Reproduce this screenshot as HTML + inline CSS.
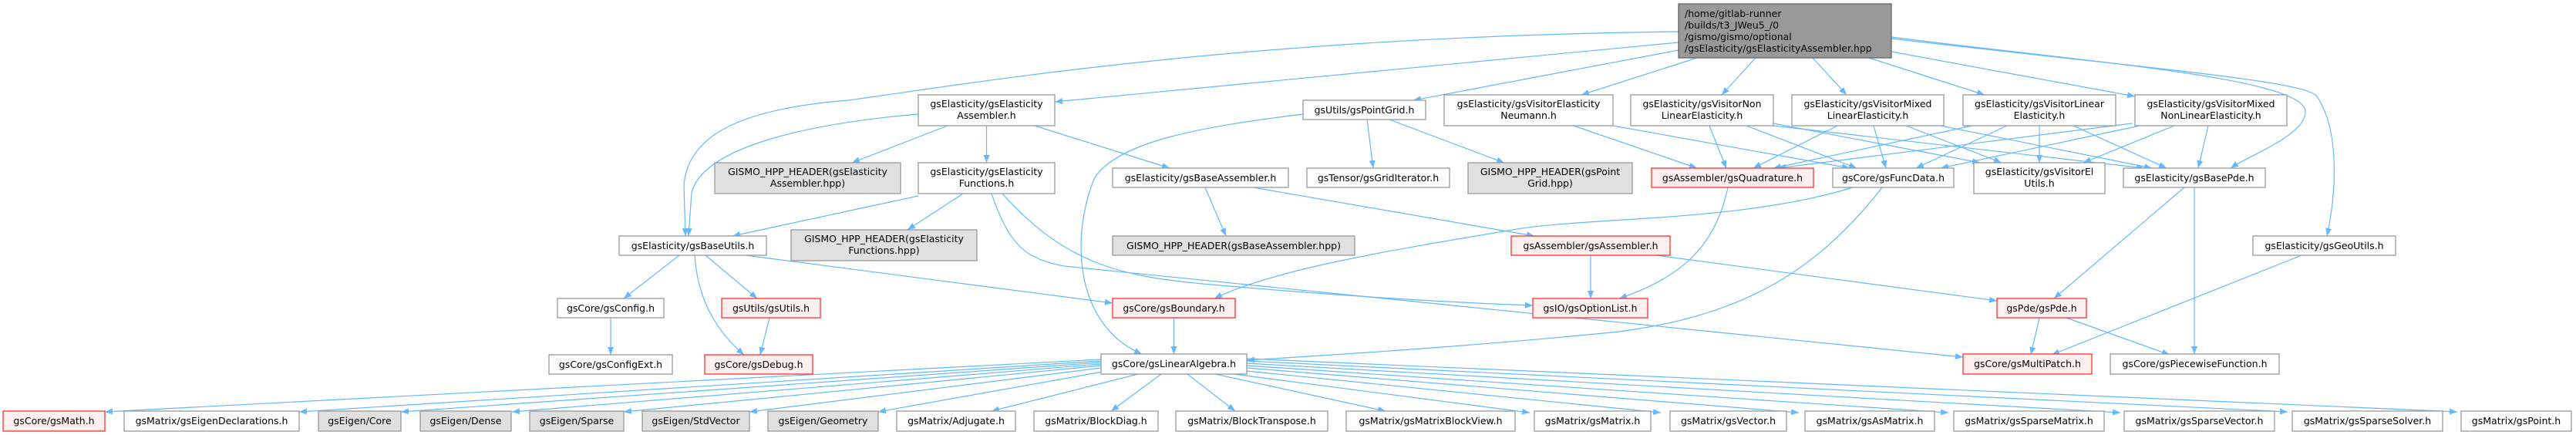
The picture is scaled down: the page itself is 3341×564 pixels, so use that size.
<!DOCTYPE html>
<html><head><meta charset="utf-8"><style>
html,body{margin:0;padding:0;background:#fff;}
svg{display:block;}
text{font-family:"DejaVu Sans","Liberation Sans",sans-serif;font-size:12.5px;fill:#000;}
.n{fill:#fff;stroke:#999;stroke-width:1.3;}
.r{fill:#fff0f0;stroke:#ff3030;stroke-width:1.3;}
.g{fill:#e0e0e0;stroke:#999;stroke-width:1.3;}
.m{fill:#999;stroke:#666;stroke-width:1.3;}
.e{fill:none;stroke:#63b8ff;stroke-width:1.2;marker-end:url(#a);}
</style></head><body>
<svg width="3341" height="564" viewBox="0 0 3341 564" xmlns="http://www.w3.org/2000/svg">
<defs><marker id="a" markerUnits="userSpaceOnUse" markerWidth="11" markerHeight="8" refX="10" refY="4" orient="auto"><path d="M0,0 L10,4 L0,8 z" fill="#63b8ff"/></marker></defs>

<!-- edges from main -->
<path class="e" d="M2177,41 C1600,48 1250,110 1100,130 C950,142 892,180 887,240 L889,306"/>
<path class="e" d="M1191,148 C1050,160 912,190 897,250 L893,306"/>
<path class="e" d="M2177,55 L1368,132"/>
<path class="e" d="M2177,65 L1833,130"/>
<path class="e" d="M2201,75 L2051,123"/>
<path class="e" d="M2277,75 L2233,123"/>
<path class="e" d="M2351,75 L2395,123"/>
<path class="e" d="M2424,75 L2574,123"/>
<path class="e" d="M2453,67 L2769,125"/>
<path class="e" d="M2453,48 C2700,80 2990,100 2990,145 C2990,175 2920,200 2893,218"/>
<path class="e" d="M2453,50 C2800,90 2990,105 3005,125 C3035,170 3030,250 3018,306"/>
<!-- EA -->
<path class="e" d="M1229,163 L1105,211"/>
<path class="e" d="M1279.5,163 L1279.5,211"/>
<path class="e" d="M1342,163 L1517,218"/>
<!-- FUN -->
<path class="e" d="M1191,254 L950,306"/>
<path class="e" d="M1249,251 L1177,298"/>
<path class="e" d="M1300,251 C1380,340 1450,358 1560,368 C1750,385 1900,393 1988,396"/>
<path class="e" d="M1286,251 C1310,320 1330,335 1380,345 L2546,463"/>
<!-- BA -->
<path class="e" d="M1563,243 L1590,306"/>
<path class="e" d="M1625,243 L1990,306"/>
<!-- PG -->
<path class="e" d="M1690,148 C1550,165 1450,185 1420,230 C1390,300 1390,420 1481,459"/>
<path class="e" d="M1773,155 L1781,218"/>
<path class="e" d="M1802,155 L1951,211"/>
<!-- visitors -->
<path class="e" d="M2041,163 L2201,218"/>
<path class="e" d="M2092,163 L2399,218"/>
<path class="e" d="M2217,163 L2239,218"/>
<path class="e" d="M2265,163 L2408,218"/>
<path class="e" d="M2300,160 L2568,211"/>
<path class="e" d="M2300,163 L2781,218"/>
<path class="e" d="M2383,163 L2274,218"/>
<path class="e" d="M2430,163 L2446,218"/>
<path class="e" d="M2472,163 L2596,211"/>
<path class="e" d="M2517,163 L2791,218"/>
<path class="e" d="M2558,163 L2300,218"/>
<path class="e" d="M2603,163 L2485,218"/>
<path class="e" d="M2645,163 L2645,211"/>
<path class="e" d="M2689,163 L2810,218"/>
<path class="e" d="M2765,160 L2306,218"/>
<path class="e" d="M2775,163 L2517,218"/>
<path class="e" d="M2820,163 L2702,211"/>
<path class="e" d="M2864,163 L2851,218"/>
<!-- mid -->
<path class="e" d="M2241,243 C2225,320 2180,360 2100,387"/>
<path class="e" d="M2403,243 C2250,290 2050,280 1950,300 C1800,325 1650,350 1575,387"/>
<path class="e" d="M2441,243 C2350,360 2250,410 2100,430 C1900,450 1700,462 1617,467"/>
<path class="e" d="M2063,331 L2063,387"/>
<path class="e" d="M2148,331 L2590,390"/>
<path class="e" d="M881,331 L809,387"/>
<path class="e" d="M915,331 L982,387"/>
<path class="e" d="M901,331 C905,390 930,430 965,460"/>
<path class="e" d="M967,331 L1443,393"/>
<path class="e" d="M792,412 L792,460"/>
<path class="e" d="M998,412 L986,460"/>
<path class="e" d="M1522.5,412 L1522.5,459"/>
<path class="e" d="M2833,243 L2664,387"/>
<path class="e" d="M2846,243 L2846,459"/>
<path class="e" d="M2985,331 L2661,460"/>
<path class="e" d="M2645,412 L2634,460"/>
<path class="e" d="M2680,412 L2814,460"/>
<!-- LA to bottom -->
<path class="e" d="M1428,466 L136,534"/>
<path class="e" d="M1428,468 L388,534"/>
<path class="e" d="M1428,470 L520,534"/>
<path class="e" d="M1428,472 L664,534"/>
<path class="e" d="M1428,474 L809,534"/>
<path class="e" d="M1428,477 L972,534"/>
<path class="e" d="M1430,482 L1139,534"/>
<path class="e" d="M1476,485 L1286,533"/>
<path class="e" d="M1506,485 L1441,533"/>
<path class="e" d="M1540,485 L1602,533"/>
<path class="e" d="M1576,485 L1797,533"/>
<path class="e" d="M1600,485 L1984,535"/>
<path class="e" d="M1617,481 L2154,535"/>
<path class="e" d="M1617,477 L2333,535"/>
<path class="e" d="M1617,474 L2527,535"/>
<path class="e" d="M1617,471 L2750,535"/>
<path class="e" d="M1617,468 L2967,534"/>
<path class="e" d="M1617,465 L3187,534"/>

<!-- nodes -->
<rect class="m" x="2177" y="5" width="276" height="70"/>
<text x="2185" y="22">/home/gitlab-runner</text>
<text x="2185" y="37">/builds/t3_JWeu5_/0</text>
<text x="2185" y="52">/gismo/gismo/optional</text>
<text x="2185" y="67">/gsElasticity/gsElasticityAssembler.hpp</text>

<g text-anchor="middle">
<rect class="n" x="1191" y="123" width="177" height="40"/><text x="1279.5" y="139">gsElasticity/gsElasticity</text><text x="1279.5" y="154">Assembler.h</text>
<rect class="n" x="1690" y="130" width="159" height="25"/><text x="1769.5" y="147">gsUtils/gsPointGrid.h</text>
<rect class="n" x="1873" y="123" width="219" height="40"/><text x="1982.5" y="139">gsElasticity/gsVisitorElasticity</text><text x="1982.5" y="154">Neumann.h</text>
<rect class="n" x="2115" y="123" width="185" height="40"/><text x="2207.5" y="139">gsElasticity/gsVisitorNon</text><text x="2207.5" y="154">LinearElasticity.h</text>
<rect class="n" x="2324" y="123" width="197" height="40"/><text x="2422.5" y="139">gsElasticity/gsVisitorMixed</text><text x="2422.5" y="154">LinearElasticity.h</text>
<rect class="n" x="2546" y="123" width="198" height="40"/><text x="2645" y="139">gsElasticity/gsVisitorLinear</text><text x="2645" y="154">Elasticity.h</text>
<rect class="n" x="2769" y="123" width="197" height="40"/><text x="2867.5" y="139">gsElasticity/gsVisitorMixed</text><text x="2867.5" y="154">NonLinearElasticity.h</text>

<rect class="g" x="927" y="211" width="241" height="40"/><text x="1047.5" y="227">GISMO_HPP_HEADER(gsElasticity</text><text x="1047.5" y="242">Assembler.hpp)</text>
<rect class="n" x="1191" y="211" width="177" height="40"/><text x="1279.5" y="227">gsElasticity/gsElasticity</text><text x="1279.5" y="242">Functions.h</text>
<rect class="n" x="1443" y="218" width="228" height="25"/><text x="1557" y="235">gsElasticity/gsBaseAssembler.h</text>
<rect class="n" x="1695" y="218" width="185" height="25"/><text x="1787.5" y="235">gsTensor/gsGridIterator.h</text>
<rect class="g" x="1904" y="211" width="213" height="40"/><text x="2010.5" y="227">GISMO_HPP_HEADER(gsPoint</text><text x="2010.5" y="242">Grid.hpp)</text>
<rect class="r" x="2142" y="218" width="210" height="25"/><text x="2247" y="235">gsAssembler/gsQuadrature.h</text>
<rect class="n" x="2377" y="218" width="157" height="25"/><text x="2455.5" y="235">gsCore/gsFuncData.h</text>
<rect class="n" x="2560" y="211" width="170" height="40"/><text x="2645" y="227">gsElasticity/gsVisitorEl</text><text x="2645" y="242">Utils.h</text>
<rect class="n" x="2754" y="218" width="184" height="25"/><text x="2846" y="235">gsElasticity/gsBasePde.h</text>

<rect class="n" x="803" y="306" width="191" height="25"/><text x="898.5" y="323">gsElasticity/gsBaseUtils.h</text>
<rect class="g" x="1026" y="298" width="241" height="40"/><text x="1146.5" y="314">GISMO_HPP_HEADER(gsElasticity</text><text x="1146.5" y="329">Functions.hpp)</text>
<rect class="g" x="1443" y="306" width="314" height="25"/><text x="1600" y="323">GISMO_HPP_HEADER(gsBaseAssembler.hpp)</text>
<rect class="r" x="1960" y="306" width="206" height="25"/><text x="2063" y="323">gsAssembler/gsAssembler.h</text>
<rect class="n" x="2922" y="306" width="185" height="25"/><text x="3014.5" y="323">gsElasticity/gsGeoUtils.h</text>

<rect class="n" x="723" y="387" width="138" height="25"/><text x="792" y="404">gsCore/gsConfig.h</text>
<rect class="r" x="936" y="387" width="128" height="25"/><text x="1000" y="404">gsUtils/gsUtils.h</text>
<rect class="r" x="1443" y="387" width="159" height="25"/><text x="1522.5" y="404">gsCore/gsBoundary.h</text>
<rect class="r" x="1988" y="387" width="149" height="25"/><text x="2062.5" y="404">gsIO/gsOptionList.h</text>
<rect class="r" x="2590" y="387" width="116" height="25"/><text x="2648" y="404">gsPde/gsPde.h</text>

<rect class="n" x="712" y="460" width="160" height="25"/><text x="792" y="477">gsCore/gsConfigExt.h</text>
<rect class="r" x="914" y="460" width="140" height="25"/><text x="984" y="477">gsCore/gsDebug.h</text>
<rect class="n" x="1428" y="459" width="189" height="26"/><text x="1522.5" y="476">gsCore/gsLinearAlgebra.h</text>
<rect class="r" x="2546" y="459" width="167" height="26"/><text x="2629.5" y="476">gsCore/gsMultiPatch.h</text>
<rect class="n" x="2737" y="459" width="219" height="26"/><text x="2846.5" y="476">gsCore/gsPiecewiseFunction.h</text>

<rect class="r" x="4" y="533" width="132" height="26"/><text x="70" y="550">gsCore/gsMath.h</text>
<rect class="n" x="161" y="533" width="227" height="26"/><text x="274.5" y="550">gsMatrix/gsEigenDeclarations.h</text>
<rect class="g" x="413" y="533" width="107" height="26"/><text x="466.5" y="550">gsEigen/Core</text>
<rect class="g" x="545" y="533" width="118" height="26"/><text x="604" y="550">gsEigen/Dense</text>
<rect class="g" x="687" y="533" width="122" height="26"/><text x="748" y="550">gsEigen/Sparse</text>
<rect class="g" x="833" y="533" width="139" height="26"/><text x="902.5" y="550">gsEigen/StdVector</text>
<rect class="g" x="996" y="533" width="143" height="26"/><text x="1067.5" y="550">gsEigen/Geometry</text>
<rect class="n" x="1163" y="533" width="154" height="26"/><text x="1240" y="550">gsMatrix/Adjugate.h</text>
<rect class="n" x="1341" y="533" width="161" height="26"/><text x="1421.5" y="550">gsMatrix/BlockDiag.h</text>
<rect class="n" x="1525" y="533" width="197" height="26"/><text x="1623.5" y="550">gsMatrix/BlockTranspose.h</text>
<rect class="n" x="1746" y="533" width="219" height="26"/><text x="1855.5" y="550">gsMatrix/gsMatrixBlockView.h</text>
<rect class="n" x="1990" y="533" width="151" height="26"/><text x="2065.5" y="550">gsMatrix/gsMatrix.h</text>
<rect class="n" x="2166" y="533" width="151" height="26"/><text x="2241.5" y="550">gsMatrix/gsVector.h</text>
<rect class="n" x="2341" y="533" width="168" height="26"/><text x="2425" y="550">gsMatrix/gsAsMatrix.h</text>
<rect class="n" x="2534" y="533" width="195" height="26"/><text x="2631.5" y="550">gsMatrix/gsSparseMatrix.h</text>
<rect class="n" x="2755" y="533" width="195" height="26"/><text x="2852.5" y="550">gsMatrix/gsSparseVector.h</text>
<rect class="n" x="2973" y="533" width="195" height="26"/><text x="3070.5" y="550">gsMatrix/gsSparseSolver.h</text>
<rect class="n" x="3192" y="533" width="143" height="26"/><text x="3263.5" y="550">gsMatrix/gsPoint.h</text>
</g>
</svg>
</body></html>
